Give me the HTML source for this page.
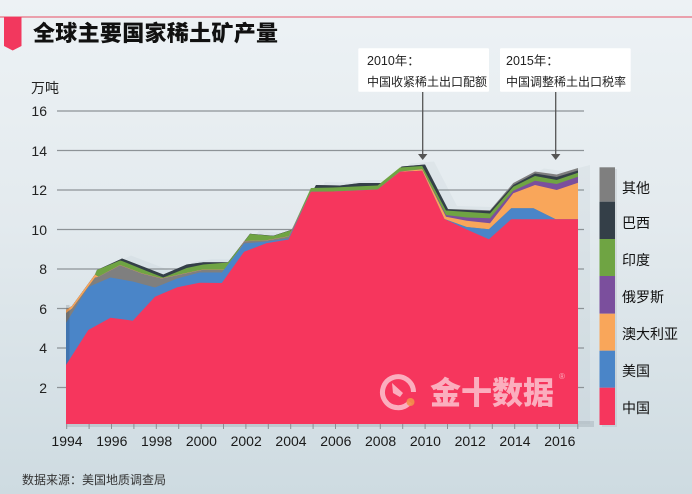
<!DOCTYPE html>
<html><head><meta charset="utf-8"><style>
html,body{margin:0;padding:0;}
body{width:692px;height:494px;overflow:hidden;position:relative;background:linear-gradient(to bottom,#edf2f5 0%,#e3eaee 45%,#cedbe1 100%);font-family:"Liberation Sans","Noto Sans CJK SC",sans-serif;}
.t{position:absolute;white-space:nowrap;}
</style></head><body>
<svg width="692" height="494" style="position:absolute;left:0;top:0" xmlns="http://www.w3.org/2000/svg">
<line x1="0" y1="17" x2="692" y2="17" stroke="#ea8593" stroke-width="1.5"/>
<polygon points="4,17 21.5,17 21.5,46 12.7,50.5 4,46" fill="#f2385e"/>
<polygon fill="rgba(165,180,188,0.12)" points="75,424 75,307 81,303 104,271.5 106,267 129,256.5 131,255.5 155.7,265 172.3,271.5 195.7,261.5 212.3,259.3 237,259.3 259,230.8 282.3,232.8 300.7,226.8 325,182 349,182.5 369,180 390.7,180 410.7,163.5 434,161.5 457,206 499,207.3 522.3,180 544,168.5 565.7,171.5 590,165 590,424"/>
<g stroke="#8d9397" stroke-width="1.2">
<line x1="57" y1="111" x2="584" y2="111"/>
<line x1="57" y1="150.5" x2="584" y2="150.5"/>
<line x1="57" y1="190" x2="584" y2="190"/>
<line x1="57" y1="229.5" x2="584" y2="229.5"/>
<line x1="57" y1="269" x2="584" y2="269"/>
<line x1="57" y1="308.5" x2="584" y2="308.5"/>
<line x1="57" y1="348" x2="584" y2="348"/>
<line x1="57" y1="387.5" x2="584" y2="387.5"/>
</g>
<rect x="66" y="421" width="528" height="6" fill="rgba(140,152,158,0.3)"/>
<polygon fill="#7f7f7f" points="66,424 66,310 72,306 95,274.5 97,270 120,259.5 122,258.5 146.7,268 163.3,274.5 186.7,264.5 203.3,262.3 228,262.3 250,233.8 273.3,235.8 291.7,229.8 316,185 340,185.5 360,183 381.7,183 401.7,166.5 425,164.5 448,209 490,210.3 513.3,183 535,171.5 556.7,174.5 578,168 578,424"/>
<polygon fill="#343f48" points="66,424 66,310 72,306 95,274.5 97,270 120,259.5 122,258.5 146.7,268 163.3,274.5 186.7,264.5 203.3,262.3 228,262.3 250,233.8 273.3,235.8 291.7,229.8 316,185 340,185.5 360,183 381.7,183 401.7,166.5 425,164.5 448,209.3 490,211 513.3,185 535,173.5 556.7,177 578,170.5 578,424"/>
<polygon fill="#6fa443" points="66,424 66,310 72,306 95,274.5 97,270 120,260.5 122,261 146.7,271 163.3,277.5 186.7,268 203.3,264.5 228,262.5 250,234 273.3,236 291.7,230 310.9,188 333.1,187.5 355.4,186.5 377.6,185.5 399.9,167.5 422.2,166 446,210.5 490,213.5 513.3,186.7 535,176 556.7,180 578,172.7 578,424"/>
<polygon fill="#7b4f9d" points="66,424 66,310 72,306 95,274.5 98.3,276.7 120,265 141.7,273.3 161.7,278.3 185,273.3 203,269.5 228,269.5 244.1,241 266.3,240.3 288.6,236.3 310.9,191.7 333.1,191.5 355.4,190.5 377.6,189.5 399.9,171.5 422.2,169.3 446,215 466.7,217.5 490,218.3 513.3,190.7 535,180.7 556.7,184 578,176.7 578,424"/>
<polygon fill="#f9a65a" points="66,424 66,310 72,306 95,274.5 98.3,276.7 120,265 141.7,273.3 161.7,278.3 185,273.3 203,269.5 228,269.5 244.1,241 266.3,240.3 288.6,236.3 310.9,191.7 333.1,191.5 355.4,190.5 377.6,189.5 399.9,171.5 422.2,169.3 446,216.7 466.7,220.7 490,223.3 513.3,193.3 535,185 556.7,190 578,182.7 578,424"/>
<polygon fill="#7f7f7f" points="66,424 66,313 72,308.5 95,277.5 98.3,276.9 120,265.2 141.7,273.5 161.7,278.5 185,273.5 203,269.7 228,269.7 244.1,241.2 266.3,240.5 288.6,236.5 310.9,191.7 333.1,191.5 355.4,190.5 377.6,189.5 399.9,171.7 422.2,170.7 444.4,219 466.7,227 488.9,229.3 511.2,208.3 533.5,208.3 555.7,219.3 578,219.3 578,424"/>
<polygon fill="#4a85c8" points="66,424 66,323 88.3,287 110.5,277.5 132.8,281.5 155,287.5 177.3,278.5 199.6,272.5 221.8,272.5 244.1,243.5 266.3,241.5 288.6,238.5 310.9,191.7 333.1,191.5 355.4,190.5 377.6,189.5 399.9,171.7 422.2,170.7 444.4,219 466.7,227 488.9,229.3 511.2,208.3 533.5,208.3 555.7,219.3 578,219.3 578,424"/>
<rect x="66" y="305" width="3.5" height="60" fill="rgba(0,0,0,0.12)"/>
<polygon fill="#f6365d" points="66,424 66,365 88.3,330 110.5,317.7 132.8,320.7 155,296.7 177.3,287.3 199.6,282.7 221.8,283 244.1,251.7 266.3,243.3 288.6,239.5 310.9,191.7 333.1,191.5 355.4,190.5 377.6,189.5 399.9,171.7 422.2,170.7 444.4,219 466.7,229.5 488.9,239.3 511.2,219.3 578,219.3 578,424"/>
<g stroke="#8a8f93" stroke-width="1">
<line x1="66.7" y1="424" x2="66.7" y2="429"/><line x1="89.1" y1="424" x2="89.1" y2="429"/><line x1="111.5" y1="424" x2="111.5" y2="429"/><line x1="133.9" y1="424" x2="133.9" y2="429"/><line x1="156.3" y1="424" x2="156.3" y2="429"/><line x1="178.7" y1="424" x2="178.7" y2="429"/><line x1="201.1" y1="424" x2="201.1" y2="429"/><line x1="223.5" y1="424" x2="223.5" y2="429"/><line x1="245.9" y1="424" x2="245.9" y2="429"/><line x1="268.3" y1="424" x2="268.3" y2="429"/><line x1="290.7" y1="424" x2="290.7" y2="429"/><line x1="313.1" y1="424" x2="313.1" y2="429"/><line x1="335.5" y1="424" x2="335.5" y2="429"/><line x1="357.9" y1="424" x2="357.9" y2="429"/><line x1="380.3" y1="424" x2="380.3" y2="429"/><line x1="402.7" y1="424" x2="402.7" y2="429"/><line x1="425.1" y1="424" x2="425.1" y2="429"/><line x1="447.5" y1="424" x2="447.5" y2="429"/><line x1="469.9" y1="424" x2="469.9" y2="429"/><line x1="492.3" y1="424" x2="492.3" y2="429"/><line x1="514.7" y1="424" x2="514.7" y2="429"/><line x1="537.1" y1="424" x2="537.1" y2="429"/><line x1="559.5" y1="424" x2="559.5" y2="429"/><line x1="577.8" y1="424" x2="577.8" y2="429"/>
</g>
<g opacity="0.6">
<path d="M 410 402 A 15.5 15.5 0 1 1 413.5 392" fill="none" stroke="#fff" stroke-width="5"/>
<path d="M 392 383 L 403 393 L 400 397 L 393 393 Z" fill="#fff"/>
</g>
<circle cx="410.5" cy="402" r="4" fill="#f2904a" opacity="0.9"/>
<rect x="358.3" y="48.3" width="130.7" height="43.4" fill="#fff" rx="1"/>
<rect x="500" y="48.3" width="130.7" height="43.4" fill="#fff" rx="1"/>
<g stroke="#555" stroke-width="1.3"><line x1="422.7" y1="92" x2="422.7" y2="155"/><line x1="555.7" y1="92" x2="555.7" y2="155"/></g>
<polygon points="418,154 427.4,154 422.7,160" fill="#555"/>
<polygon points="551,154 560.4,154 555.7,160" fill="#555"/>
<rect x="602" y="169" width="15" height="258" fill="rgba(120,130,135,0.15)"/>
<rect x="599.5" y="167.3" width="15.5" height="34.4" fill="#7f7f7f"/>
<rect x="599.5" y="201.7" width="15.5" height="37.3" fill="#343f48"/>
<rect x="599.5" y="239" width="15.5" height="37" fill="#6fa443"/>
<rect x="599.5" y="276" width="15.5" height="37.7" fill="#7b4f9d"/>
<rect x="599.5" y="313.7" width="15.5" height="37" fill="#f9a65a"/>
<rect x="599.5" y="350.7" width="15.5" height="37" fill="#4a85c8"/>
<rect x="599.5" y="387.7" width="15.5" height="37.3" fill="#f6365d"/>
</svg>

<div class="t" style="left:33px;top:21px;font-size:22px;line-height:22px;font-weight:900;color:#111;font-family:'Noto Sans CJK SC',sans-serif;letter-spacing:0.3px;">全球主要国家稀土矿产量</div>
<div class="t" style="left:31px;top:81px;font-size:14px;line-height:14px;color:#222;">万吨</div>

<div class="t" style="left:17px;width:30px;text-align:right;top:104px;font-size:14px;line-height:14px;color:#222;">16</div>
<div class="t" style="left:17px;width:30px;text-align:right;top:143.5px;font-size:14px;line-height:14px;color:#222;">14</div>
<div class="t" style="left:17px;width:30px;text-align:right;top:183px;font-size:14px;line-height:14px;color:#222;">12</div>
<div class="t" style="left:17px;width:30px;text-align:right;top:222.5px;font-size:14px;line-height:14px;color:#222;">10</div>
<div class="t" style="left:17px;width:30px;text-align:right;top:262px;font-size:14px;line-height:14px;color:#222;">8</div>
<div class="t" style="left:17px;width:30px;text-align:right;top:301.5px;font-size:14px;line-height:14px;color:#222;">6</div>
<div class="t" style="left:17px;width:30px;text-align:right;top:341px;font-size:14px;line-height:14px;color:#222;">4</div>
<div class="t" style="left:17px;width:30px;text-align:right;top:380.5px;font-size:14px;line-height:14px;color:#222;">2</div>

<div class="t" style="left:47px;width:40px;text-align:center;top:434px;font-size:14px;line-height:14px;color:#1a1a1a;">1994</div>
<div class="t" style="left:91.8px;width:40px;text-align:center;top:434px;font-size:14px;line-height:14px;color:#1a1a1a;">1996</div>
<div class="t" style="left:136.6px;width:40px;text-align:center;top:434px;font-size:14px;line-height:14px;color:#1a1a1a;">1998</div>
<div class="t" style="left:181.4px;width:40px;text-align:center;top:434px;font-size:14px;line-height:14px;color:#1a1a1a;">2000</div>
<div class="t" style="left:226.2px;width:40px;text-align:center;top:434px;font-size:14px;line-height:14px;color:#1a1a1a;">2002</div>
<div class="t" style="left:271px;width:40px;text-align:center;top:434px;font-size:14px;line-height:14px;color:#1a1a1a;">2004</div>
<div class="t" style="left:315.8px;width:40px;text-align:center;top:434px;font-size:14px;line-height:14px;color:#1a1a1a;">2006</div>
<div class="t" style="left:360.6px;width:40px;text-align:center;top:434px;font-size:14px;line-height:14px;color:#1a1a1a;">2008</div>
<div class="t" style="left:405.4px;width:40px;text-align:center;top:434px;font-size:14px;line-height:14px;color:#1a1a1a;">2010</div>
<div class="t" style="left:450.2px;width:40px;text-align:center;top:434px;font-size:14px;line-height:14px;color:#1a1a1a;">2012</div>
<div class="t" style="left:495px;width:40px;text-align:center;top:434px;font-size:14px;line-height:14px;color:#1a1a1a;">2014</div>
<div class="t" style="left:539.8px;width:40px;text-align:center;top:434px;font-size:14px;line-height:14px;color:#1a1a1a;">2016</div>

<div class="t" style="left:367px;top:54.5px;font-size:12.5px;line-height:12.5px;color:#222;">2010年：</div>
<div class="t" style="left:367px;top:75.5px;font-size:12px;line-height:12px;color:#222;">中国收紧稀土出口配额</div>
<div class="t" style="left:506px;top:54.5px;font-size:12.5px;line-height:12.5px;color:#222;">2015年：</div>
<div class="t" style="left:506px;top:75.5px;font-size:12px;line-height:12px;color:#222;">中国调整稀土出口税率</div>

<div class="t" style="left:622px;top:181px;font-size:14px;line-height:14px;color:#111;">其他</div>
<div class="t" style="left:622px;top:216px;font-size:14px;line-height:14px;color:#111;">巴西</div>
<div class="t" style="left:622px;top:253px;font-size:14px;line-height:14px;color:#111;">印度</div>
<div class="t" style="left:622px;top:290px;font-size:14px;line-height:14px;color:#111;">俄罗斯</div>
<div class="t" style="left:622px;top:327px;font-size:14px;line-height:14px;color:#111;">澳大利亚</div>
<div class="t" style="left:622px;top:364px;font-size:14px;line-height:14px;color:#111;">美国</div>
<div class="t" style="left:622px;top:401px;font-size:14px;line-height:14px;color:#111;">中国</div>

<div class="t" style="left:430px;top:375px;font-size:31px;line-height:31px;font-weight:900;color:rgba(255,255,255,0.6);font-family:'Noto Sans CJK SC',sans-serif;">金十数据</div>
<div class="t" style="left:559px;top:373px;font-size:8px;line-height:8px;color:rgba(255,255,255,0.6);">®</div>

<div class="t" style="left:22px;top:474px;font-size:12px;line-height:12px;color:#333;">数据来源：美国地质调查局</div>
</body></html>
